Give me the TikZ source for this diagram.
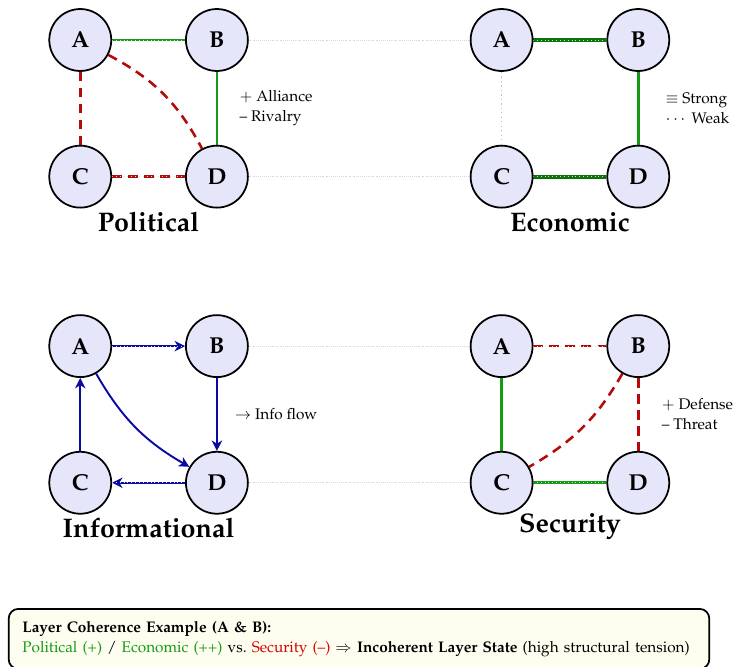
\documentclass[tikz,border=0pt]{standalone}
\usepackage[T1]{fontenc}
\usepackage{mathpazo}
\usepackage{amsmath}
\usepackage{amssymb}
\usetikzlibrary{positioning, arrows.meta, calc}
\pgfdeclarelayer{edges}
\pgfdeclarelayer{links}
\pgfsetlayers{edges,links,main}

\begin{document}
\begin{tikzpicture}[
        actor/.style={circle, line width=1.1pt, draw, fill=nodefill, minimum size=1.36cm, inner sep=0pt, font=\Large\bfseries},
        ally/.style={line width=1.6pt, draw=allygreen},
        strongtie/.style={line width=2.6pt, draw=stronggreen},
        weaktie/.style={thick, dotted, draw=gray!50},
        rival/.style={line width=1.6pt, dash pattern=on 6pt off 4pt, draw=rivalred},
        info/.style={line width=1.2pt, -{Stealth[length=6.5pt, width=6.5pt, inset=2pt]}, draw=infoblue},
        layerlink/.style={gray!30, dotted},
        layertitle/.style={font=\fontsize{16.8}{20}\selectfont\bfseries},
        legend/.style={align=left, font=\fontsize{9.6}{12.5}\selectfont}
    ]
        \definecolor{nodefill}{HTML}{E6E6FA}
        \definecolor{allygreen}{HTML}{149A14}
        \definecolor{stronggreen}{HTML}{0A730A}
        \definecolor{rivalred}{HTML}{B40A0A}
        \definecolor{infoblue}{HTML}{0A0AA0}
        \definecolor{notefill}{HTML}{FDFDF0}

        \useasboundingbox (-1.762,0.878) rectangle (14.33,-13.76);

        % Political layer
        \node[actor] (PA) at (0,0) {A};
        \node[actor] (PB) at (3,0) {B};
        \node[actor] (PC) at (0,-3) {C};
        \node[actor] (PD) at (3,-3) {D};
        \node[layertitle] (Ptitle) at ($(PC)!0.5!(PD)+(0,-1)$) {Political};
        \node[legend] (Plegend) at ($(PB)!0.5!(PD)+(1.3,0)$) {$+$ Alliance\\ -- Rivalry};

        % Economic layer
        \node[actor] (EA) at (9.25,0) {A};
        \node[actor] (EB) at (12.25,0) {B};
        \node[actor] (EC) at (9.25,-3) {C};
        \node[actor] (ED) at (12.25,-3) {D};
        \node[layertitle] (Etitle) at ($(EC)!0.5!(ED)+(0,-1)$) {Economic};
        \node[legend] (Elegend) at ($(EB)!0.5!(ED)+(1.3,0)$) {$\equiv$ Strong\\ $\cdots$ Weak};

        % Informational layer
        \node[actor] (IA) at (0,-6.72) {A};
        \node[actor] (IB) at (3,-6.72) {B};
        \node[actor] (IC) at (0,-9.72) {C};
        \node[actor] (ID) at (3,-9.72) {D};
        \node[layertitle] (Ititle) at ($(IC)!0.5!(ID)+(0,-1)$) {Informational};
        \node[legend] (Ilegend) at ($(IB)!0.5!(ID)+(1.3,0)$) {$\rightarrow$ Info flow};

        % Security layer
        \node[actor] (SA) at (9.25,-6.72) {A};
        \node[actor] (SB) at (12.25,-6.72) {B};
        \node[actor] (SC) at (9.25,-9.72) {C};
        \node[actor] (SD) at (12.25,-9.72) {D};
        \node[layertitle] (Stitle) at ($(SC)!0.5!(SD)+(0,-0.95)$) {Security};
        \node[legend] (Slegend) at ($(SB)!0.5!(SD)+(1.3,0)$) {$+$ Defense\\ -- Threat};

        \begin{pgfonlayer}{edges}
            \draw[ally] (PA) -- (PB);
            \draw[ally] (PB) -- (PD);
            \draw[rival] (PA) -- (PC);
            \draw[rival] (PC) -- (PD);
            \draw[rival] (PA) to[bend left=17] (PD);

            \draw[strongtie] (EA) -- (EB);
            \draw[strongtie] (EC) -- (ED);
            \draw[ally] (EB) -- (ED);
            \draw[weaktie] (EA) -- (EC);

            \draw[info] (IA) -- (IB);
            \draw[info] (IB) -- (ID);
            \draw[info] (ID) -- (IC);
            \draw[info] (IC) -- (IA);
            \draw[info] (IA) to[bend right=15] (ID);

            \draw[rival] (SA) -- (SB);
            \draw[rival] (SB) -- (SD);
            \draw[ally] (SA) -- (SC);
            \draw[ally] (SC) -- (SD);
            \draw[rival] (SB) to[bend left=15] (SC);
        \end{pgfonlayer}

        % links between layers
        \begin{pgfonlayer}{links}
            \foreach \n in {A,B,C,D}{
                \draw[layerlink] (P\n) -- (E\n);
                \draw[layerlink] (I\n) -- (S\n);
            }
        \end{pgfonlayer}

        \node[draw, line width=1.1pt, rounded corners=6pt, fill=notefill, anchor=north west, text width=14.78cm,
            inner xsep=0.3cm, inner ysep=0.27cm, align=left, font=\fontsize{9.6}{12.5}\selectfont] (note) at (-1.59,-12.47)
            {\textbf{Layer Coherence Example (A \& B):}\\
            \textcolor{allygreen}{Political (+)} / \textcolor{allygreen}{Economic (++)} vs.\
            \textcolor{red!85!black}{Security (--)} $\Rightarrow$ \textbf{Incoherent Layer State} (high structural tension)};
    \end{tikzpicture}
\end{document}
